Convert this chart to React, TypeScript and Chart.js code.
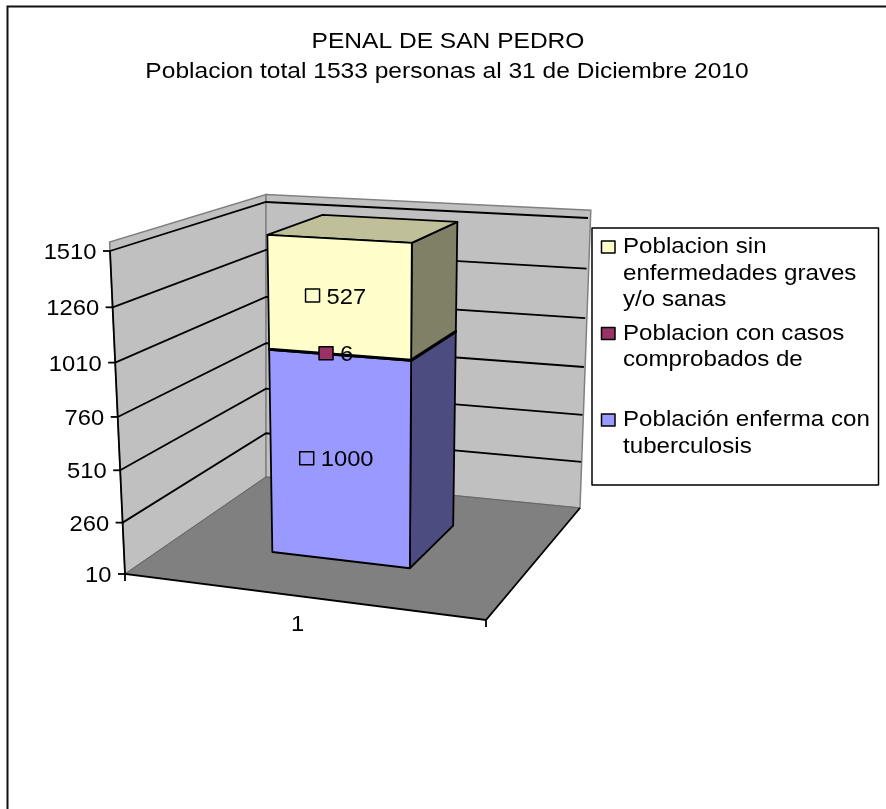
import React, { useEffect, useRef } from "react";
import { Chart, registerables } from "chart.js";

Chart.register(...registerables);

const TITLE_LINES = ["PENAL DE SAN PEDRO", "Poblacion total 1533 personas al 31 de Diciembre 2010"];
const CATEGORIES = ["1"];
const TICK_VALUES = [10, 260, 510, 760, 1010, 1260, 1510];
const TUBERCULOSIS = [1000];
const CASOS = [6];
const SANAS = [527];
const LABEL_TUBERCULOSIS = ["Población enferma con", "tuberculosis"];
const LABEL_CASOS = ["Poblacion con casos", "comprobados de"];
const LABEL_SANAS = ["Poblacion sin", "enfermedades graves", "y/o sanas"];
const COLOR_TUBERCULOSIS = ["#9999FF", "#4C4C80", "#7373BF"];
const COLOR_CASOS = ["#993366", "#4D1A33", "#73264D"];
const COLOR_SANAS = ["#FFFFCC", "#808066", "#BFBF99"];

// layout of the 3-D box: [front-left, front-right, back-right, back-left]
type Pt = [number, number];
const FLOOR: Pt[] = [[125, 574], [486, 620], [580, 508], [266, 477]];
const CEIL: Pt[] = [[110, 251], [493, 274], [588, 218], [266, 202]];
const BAR_DEPTH = [0.347, 0.745];
const BAR_SHIFT = -0.015;
const WARP = 0.055;
const FONT = '"Liberation Sans", Arial, sans-serif';
const FONT_SIZE = 22;
const STRETCH_TITLE = 1.116;
const STRETCH_LEGEND = 1.097;
const STRETCH = 1.08;
const LINE = 1.8;

const lerp = (a: number, b: number, t: number) => a + (b - a) * t;
function planePoint(q: Pt[], u: number, w: number): Pt {
  const lx = lerp(q[0][0], q[3][0], w), ly = lerp(q[0][1], q[3][1], w);
  const rx = lerp(q[1][0], q[2][0], w), ry = lerp(q[1][1], q[2][1], w);
  return [lerp(lx, rx, u), lerp(ly, ry, u)];
}
function P(u: number, v: number, w: number): Pt {
  const vv = v - WARP * v * (1 - v);
  const a = planePoint(FLOOR, u, w), b = planePoint(CEIL, u, w);
  return [lerp(a[0], b[0], vv), lerp(a[1], b[1], vv)];
}
function poly(ctx: CanvasRenderingContext2D, pts: Pt[], fill: string | null, stroke: string | null, lw = LINE) {
  ctx.beginPath();
  pts.forEach((p, i) => (i ? ctx.lineTo(p[0], p[1]) : ctx.moveTo(p[0], p[1])));
  if (fill) {
    ctx.closePath();
    ctx.fillStyle = fill;
    ctx.fill();
  }
  if (stroke) {
    ctx.strokeStyle = stroke;
    ctx.lineWidth = lw;
    ctx.stroke();
  }
}
function text(ctx: CanvasRenderingContext2D, s: string, x: number, y: number, align: CanvasTextAlign = "left", sx = STRETCH) {
  ctx.save();
  ctx.translate(x, y);
  ctx.scale(sx, 1);
  ctx.font = `${FONT_SIZE}px ${FONT}`;
  ctx.fillStyle = "#000";
  ctx.textAlign = align;
  ctx.textBaseline = "alphabetic";
  ctx.fillText(s, 0, 0);
  ctx.restore();
}
const valueToV = (scale: any, px: number) =>
  Math.max(0, (scale.bottom - px) / (scale.bottom - scale.top));

const penal3D = {
  id: "penal3D",
  beforeDatasetsDraw(chart: any) {
    const ctx: CanvasRenderingContext2D = chart.ctx;
    const y = chart.scales.y;
    ctx.save();
    ctx.lineJoin = "miter";
    // frame
    ctx.strokeStyle = "#111";
    ctx.lineWidth = 2;
    ctx.strokeRect(7.5, 6.5, 1000, 1000);
    // title
    text(ctx, TITLE_LINES[0], 448, 48, "center", STRETCH_TITLE);
    text(ctx, TITLE_LINES[1], 447, 78, "center", STRETCH_TITLE);
    // walls
    const TOP = 1.026;
    poly(ctx, [P(0, 0, 0), P(0, 0, 1), P(0, TOP, 1), P(0, TOP, 0)], "#C0C0C0", "#808080", 1.5);
    poly(ctx, [P(0, 0, 1), P(1, 0, 1), P(1.008, TOP, 1), P(0, TOP, 1)], "#C0C0C0", "#808080", 1.5);
    // floor
    poly(ctx, [P(0, 0, 0), P(1, 0, 0), P(1, 0, 1), P(0, 0, 1)], "#808080", null);
    poly(ctx, [P(0, 0, 1), P(1, 0, 1)], null, "#666666", 1);
    poly(ctx, [P(0, 0, 0), P(0, 0, 1)], null, "#666666", 1);
    // gridlines + ticks + labels
    y.ticks.forEach((t: any) => {
      const v = valueToV(y, y.getPixelForValue(t.value));
      const a = P(0, v, 0);
      if (t.value !== y.min) poly(ctx, [a, P(0, v, 1), P(1, v, 1)], null, "#000");
      poly(ctx, [[a[0] - 7, a[1]], a], null, "#000");
      text(ctx, String(t.value), a[0] - 13.5, a[1] + 8, "right");
    });
    // axes
    poly(ctx, [P(0, 1, 0), P(0, 0, 0), P(1, 0, 0), P(1, 0, 1)], null, "#000");
    [0, 1].forEach((u) => {
      const a = P(u, 0, 0);
      poly(ctx, [a, [a[0], a[1] + 7]], null, "#000");
    });
    const c = P(0.5, 0, 0);
    text(ctx, chart.scales.x.getLabelForValue(0), c[0] - 8, c[1] + 34, "center");
    ctx.restore();
  },
  beforeDatasetDraw() {
    return false;
  },
  afterDatasetsDraw(chart: any) {
    const ctx: CanvasRenderingContext2D = chart.ctx;
    const { x, y } = chart.scales;
    const [w0, w1] = BAR_DEPTH;
    ctx.save();
    ctx.lineJoin = "round";
    const boxes = chart.data.datasets.map((ds: any, i: number) => {
      const el = chart.getDatasetMeta(i).data[0];
      const u0 = (el.x - el.width / 2 - x.left) / (x.right - x.left) + BAR_SHIFT;
      const u1 = (el.x + el.width / 2 - x.left) / (x.right - x.left) + BAR_SHIFT;
      const v0 = valueToV(y, el.base);
      const v1 = valueToV(y, el.y);
      const cols = ds.faceColors;
      poly(ctx, [P(u1, v0, w0), P(u1, v0, w1), P(u1, v1, w1), P(u1, v1, w0)], cols[1], "#000");
      poly(ctx, [P(u0, v1, w0), P(u1, v1, w0), P(u1, v1, w1), P(u0, v1, w1)], cols[2], "#000");
      poly(ctx, [P(u0, v0, w0), P(u1, v0, w0), P(u1, v1, w0), P(u0, v1, w0)], cols[0], "#000");
      return { u: (u0 + u1) / 2, v: (v0 + v1) / 2, value: ds.data[0], color: cols[0] };
    });
    // data labels with legend keys
    boxes.forEach((b: any) => {
      const s = String(b.value);
      const p = P(b.u, b.v, w0);
      ctx.font = `${FONT_SIZE}px ${FONT}`;
      const tw = ctx.measureText(s).width * STRETCH;
      const total = 14 + 7 + tw;
      const cx = p[0] - 4;
      const left = cx - total / 2;
      const my = p[1] - 1.5;
      ctx.fillStyle = b.color;
      ctx.strokeStyle = "#000";
      ctx.lineWidth = 1.5;
      ctx.fillRect(left, my - 6.5, 14, 13);
      ctx.strokeRect(left, my - 6.5, 14, 13);
      text(ctx, s, left + 21, my + 8);
    });
    // legend
    poly(ctx, [[592, 228], [878.5, 228], [878.5, 485], [592, 485]], "#fff", null);
    ctx.strokeStyle = "#000";
    ctx.lineWidth = 1.5;
    ctx.strokeRect(592, 228, 286.5, 257);
    [...chart.data.datasets].reverse().forEach((ds: any, i: number) => {
      const base = 253 + i * 86.5;
      ctx.fillStyle = ds.backgroundColor;
      ctx.strokeStyle = "#000";
      ctx.lineWidth = 1.5;
      ctx.fillRect(601.5, base - 12, 13.5, 12);
      ctx.strokeRect(601.5, base - 12, 13.5, 12);
      ds.labelLines.forEach((line: string, j: number) => text(ctx, line, 623, base + j * 26.7, "left", STRETCH_LEGEND));
    });
    ctx.restore();
  },
};

export default function App() {
  const ref = useRef<HTMLCanvasElement>(null);
  useEffect(() => {
    const chart = new Chart(ref.current!, {
      type: "bar",
      data: {
        labels: CATEGORIES,
        datasets: [
          { label: LABEL_TUBERCULOSIS.join(" "), labelLines: LABEL_TUBERCULOSIS, faceColors: COLOR_TUBERCULOSIS, data: TUBERCULOSIS, backgroundColor: COLOR_TUBERCULOSIS[0] },
          { label: LABEL_CASOS.join(" "), labelLines: LABEL_CASOS, faceColors: COLOR_CASOS, data: CASOS, backgroundColor: COLOR_CASOS[0] },
          { label: LABEL_SANAS.join(" "), labelLines: LABEL_SANAS, faceColors: COLOR_SANAS, data: SANAS, backgroundColor: COLOR_SANAS[0] },
        ] as any,
      },
      options: {
        animation: false,
        responsive: false,
        layout: { padding: { left: 125, right: 400, top: 251, bottom: 189 } },
        datasets: { bar: { categoryPercentage: 1, barPercentage: 0.399 } },
        plugins: { legend: { display: false }, title: { display: false }, tooltip: { enabled: false } },
        scales: {
          x: { display: false, stacked: true },
          y: {
            display: false,
            stacked: true,
            min: 10,
            max: 1510,
            afterBuildTicks: (s: any) => {
              s.ticks = TICK_VALUES.map((value) => ({ value }));
            },
          },
        },
      },
      plugins: [penal3D],
    } as any);
    return () => chart.destroy();
  }, []);
  return (
    <canvas
      ref={ref}
      width={886}
      height={809}
      style={{ position: "absolute", left: 0, top: 0, width: 886, height: 809, background: "#fff" }}
    />
  );
}
